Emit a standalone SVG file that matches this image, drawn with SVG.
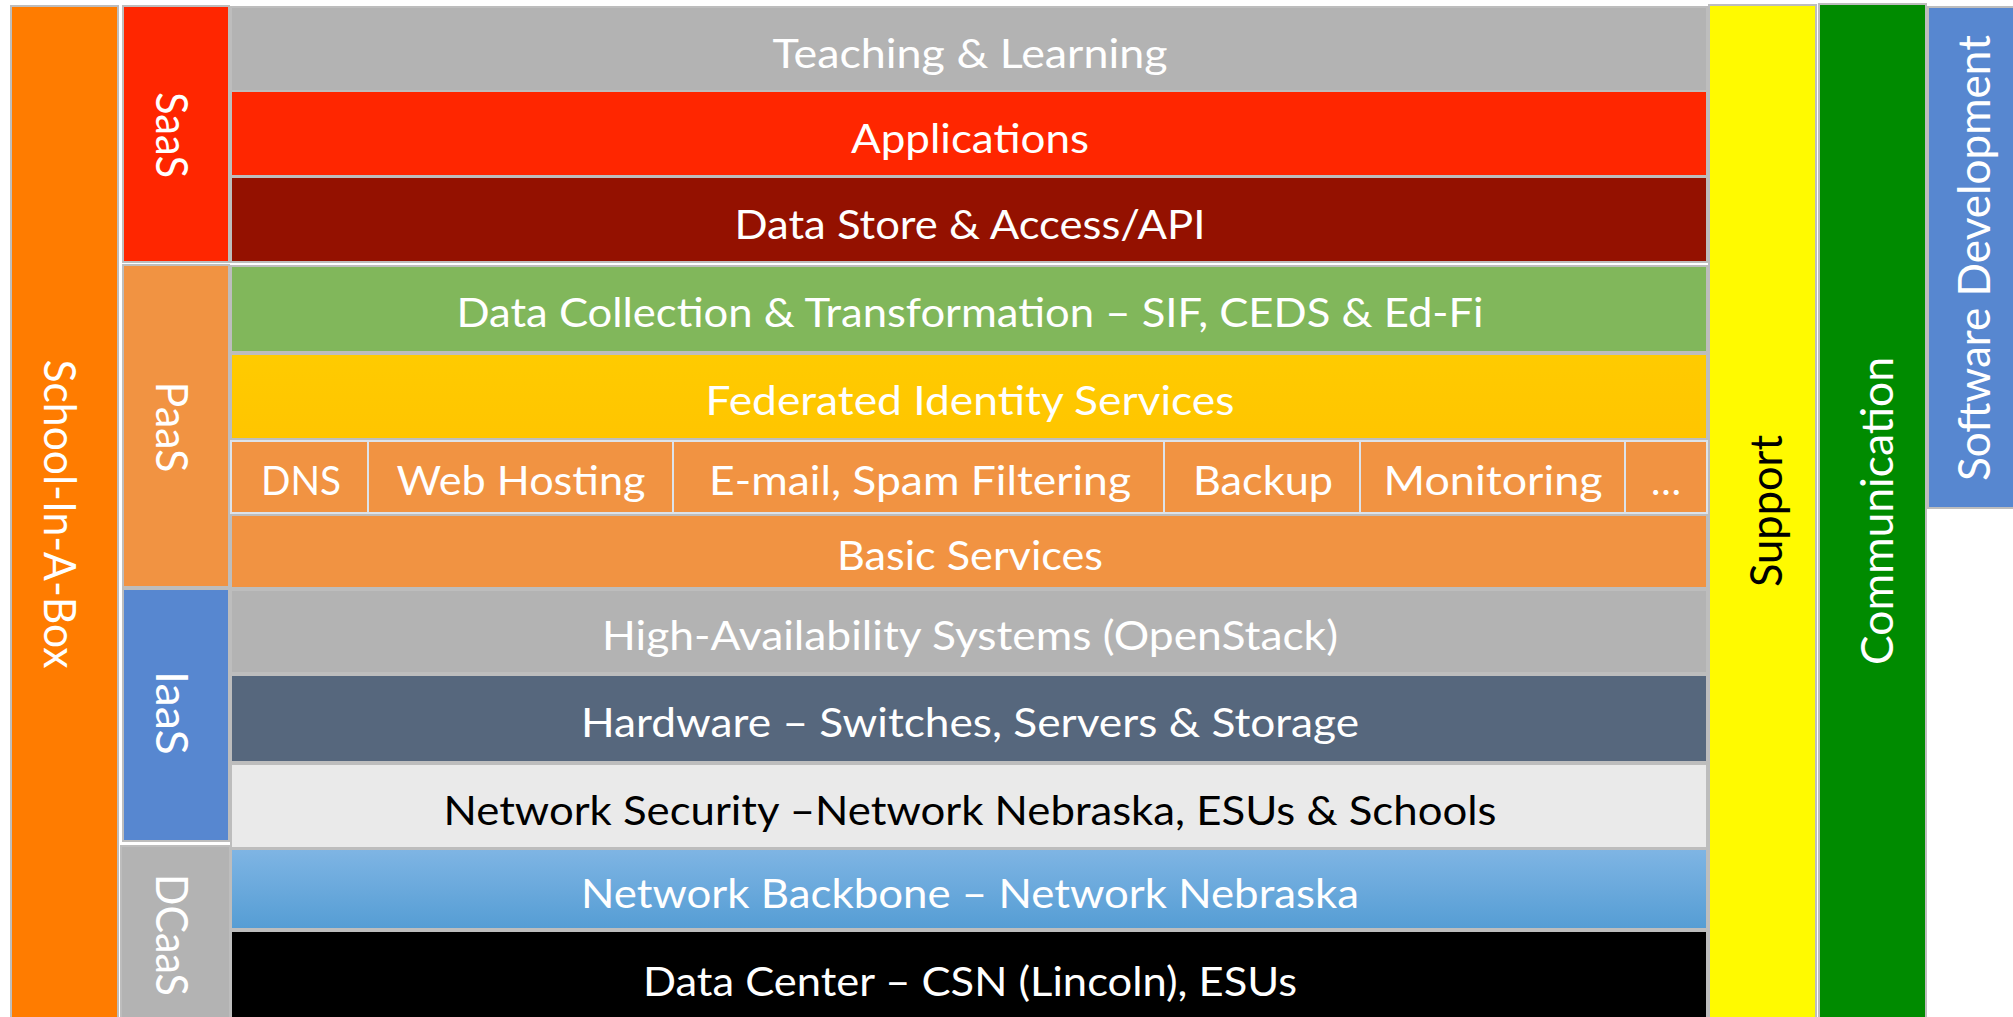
<svg xmlns="http://www.w3.org/2000/svg" width="2013" height="1017" viewBox="0 0 2013 1017">
<defs>
<linearGradient id="gBackbone" x1="0" y1="0" x2="0" y2="1">
<stop offset="0" stop-color="#7FB5E4"/>
<stop offset="1" stop-color="#559DD4"/>
</linearGradient>
<linearGradient id="gFed" x1="0" y1="0" x2="0" y2="1">
<stop offset="0" stop-color="#FFCB00"/>
<stop offset="1" stop-color="#FFC500"/>
</linearGradient>
</defs>
<style>
rect.b{stroke:#bdbdbd;stroke-width:2}
rect.s{stroke:#dde3ea;stroke-width:2}
text{font-family:Lato,"Open Sans","Liberation Sans",sans-serif;text-anchor:middle}
text.r{font-size:40px;fill:#ffffff}
text.v{font-size:44px;fill:#ffffff}
text.k{fill:#000000}
</style>
<rect x="0" y="0" width="2013" height="1017" fill="#ffffff"/>

<g id="school-in-a-box">
<rect class="b" x="11" y="6" width="107" height="1015" fill="#FF7C00"/>
<text class="v" transform="translate(64,514) rotate(90)" x="0" y="20" textLength="309" lengthAdjust="spacingAndGlyphs">School-In-A-Box</text>
</g>
<g id="saas">
<rect class="b" x="123" y="6" width="106" height="256" fill="#FF2600"/>
<text class="v" transform="translate(176,135) rotate(90)" x="0" y="20" textLength="86" lengthAdjust="spacingAndGlyphs">SaaS</text>
</g>
<g id="paas">
<rect class="b" x="123" y="265" width="106" height="322" fill="#F19342"/>
<text class="v" transform="translate(176,427) rotate(90)" x="0" y="20" textLength="91" lengthAdjust="spacingAndGlyphs">PaaS</text>
</g>
<g id="iaas">
<rect class="b" x="123" y="589" width="106" height="252" fill="#5787D0"/>
<text class="v" transform="translate(176,713) rotate(90)" x="0" y="20" textLength="84" lengthAdjust="spacingAndGlyphs">IaaS</text>
</g>
<g id="dcaas">
<rect class="b" x="121" y="846" width="109" height="175" fill="#B3B3B3"/>
<text class="v" transform="translate(176,935) rotate(90)" x="0" y="20" textLength="122" lengthAdjust="spacingAndGlyphs">DCaaS</text>
</g>

<g id="teaching-learning">
<rect class="b" x="231" y="7" width="1476" height="84" fill="#B3B3B3"/>
<text class="r" x="970" y="68" textLength="395" lengthAdjust="spacingAndGlyphs">Teaching &amp; Learning</text>
</g>
<g id="applications">
<rect class="b" x="231" y="91" width="1476" height="85" fill="#FF2600"/>
<text class="r" x="970" y="153" textLength="238" lengthAdjust="spacingAndGlyphs">Applications</text>
</g>
<g id="data-store">
<rect class="b" x="231" y="177" width="1476" height="85" fill="#941100"/>
<text class="r" x="970" y="239" textLength="471" lengthAdjust="spacingAndGlyphs">Data Store &amp; Access/API</text>
</g>
<g id="data-collection">
<rect class="b" x="231" y="266" width="1476" height="86" fill="#81B75B"/>
<text class="r" x="970" y="327" textLength="1027" lengthAdjust="spacingAndGlyphs">Data Collection &amp; Transformation – SIF, CEDS &amp; Ed-Fi</text>
</g>
<g id="federated-identity">
<rect class="b" x="231" y="354" width="1476" height="85" fill="url(#gFed)"/>
<text class="r" x="970" y="415" textLength="529" lengthAdjust="spacingAndGlyphs">Federated Identity Services</text>
</g>
<g id="sub-services">
<rect class="s" x="231" y="441" width="137" height="72" fill="#F19342"/>
<rect class="s" x="368" y="441" width="305" height="72" fill="#F19342"/>
<rect class="s" x="673" y="441" width="491" height="72" fill="#F19342"/>
<rect class="s" x="1164" y="441" width="196" height="72" fill="#F19342"/>
<rect class="s" x="1360" y="441" width="265" height="72" fill="#F19342"/>
<rect class="s" x="1625" y="441" width="82" height="72" fill="#F19342"/>
<text class="r" x="301" y="495" textLength="80" lengthAdjust="spacingAndGlyphs">DNS</text>
<text class="r" x="521" y="495" textLength="249" lengthAdjust="spacingAndGlyphs">Web Hosting</text>
<text class="r" x="920" y="495" textLength="422" lengthAdjust="spacingAndGlyphs">E-mail, Spam Filtering</text>
<text class="r" x="1263" y="495" textLength="140" lengthAdjust="spacingAndGlyphs">Backup</text>
<text class="r" x="1493" y="495" textLength="219" lengthAdjust="spacingAndGlyphs">Monitoring</text>
<text class="r" x="1666" y="495">…</text>
</g>
<g id="basic-services">
<rect class="b" x="231" y="515" width="1476" height="73" fill="#F19342"/>
<text class="r" x="970" y="570" textLength="266" lengthAdjust="spacingAndGlyphs">Basic Services</text>
</g>
<g id="high-availability">
<rect class="b" x="231" y="590" width="1476" height="83" fill="#B3B3B3"/>
<text class="r" x="970" y="650" textLength="736" lengthAdjust="spacingAndGlyphs">High-Availability Systems (OpenStack)</text>
</g>
<g id="hardware">
<rect class="b" x="231" y="675" width="1476" height="87" fill="#56677D"/>
<text class="r" x="970" y="737" textLength="778" lengthAdjust="spacingAndGlyphs">Hardware – Switches, Servers &amp; Storage</text>
</g>
<g id="network-security">
<rect class="b" x="231" y="764" width="1476" height="84" fill="#EAEAEA"/>
<text class="r k" x="970" y="825" textLength="1053" lengthAdjust="spacingAndGlyphs">Network Security –Network Nebraska, ESUs &amp; Schools</text>
</g>
<g id="network-backbone">
<rect class="b" x="231" y="849" width="1476" height="80" fill="url(#gBackbone)"/>
<text class="r" x="970" y="908" textLength="778" lengthAdjust="spacingAndGlyphs">Network Backbone – Network Nebraska</text>
</g>
<g id="data-center">
<rect class="b" x="231" y="931" width="1476" height="90" fill="#000000"/>
<text class="r" x="970" y="996" textLength="654" lengthAdjust="spacingAndGlyphs">Data Center – CSN (Lincoln), ESUs</text>
</g>

<g id="support">
<rect class="b" x="1709" y="5" width="107" height="1016" fill="#FFFA00"/>
<text class="v k" transform="translate(1762,511) rotate(-90)" x="0" y="20" textLength="152" lengthAdjust="spacingAndGlyphs">Support</text>
</g>
<g id="communication">
<rect class="b" x="1819" y="4" width="107" height="1017" fill="#008B00"/>
<text class="v" transform="translate(1873,511) rotate(-90)" x="0" y="20" textLength="308" lengthAdjust="spacingAndGlyphs">Communication</text>
</g>
<g id="software-development">
<rect class="b" x="1928" y="7" width="90" height="501" fill="#5787D0"/>
<text class="v" transform="translate(1970,258) rotate(-90)" x="0" y="20" textLength="446" lengthAdjust="spacingAndGlyphs">Software Development</text>
</g>
<g id="connectors"/>
</svg>
